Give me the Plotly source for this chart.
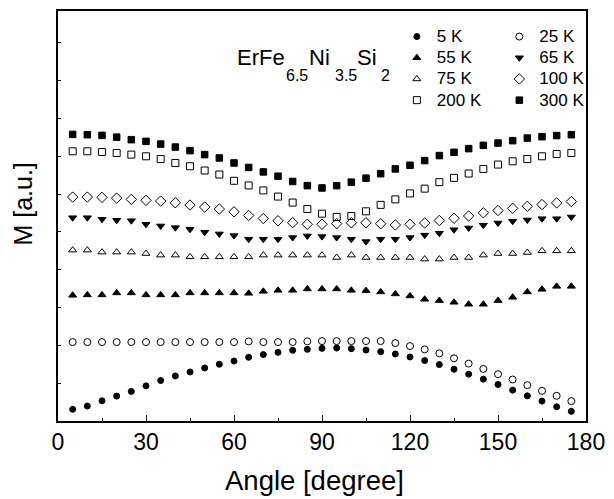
import plotly.graph_objects as go

# Angle (degree)
angles = list(range(5, 180, 5))

# Magnetization M [a.u.] (arbitrary units)
m_5K = [11.7, 15, 20.3, 25, 29.7, 35.3, 40.7, 45.3, 49.3, 53.3, 57, 60.3, 64, 66.7, 69, 71, 72, 73,
        73.3, 72.7, 71.3, 69.7, 67.3, 64.3, 60.7, 56.7, 52, 47, 42, 36.7, 31, 25.3, 20, 14.3, 9.7]
m_25K = [79.3, 79.3, 79.3, 79.3, 79.3, 79.3, 79.3, 79.3, 79.3, 79.3, 79.3, 79.3, 80, 79.3, 79.3, 79.3, 80, 80.3,
         80.3, 80.3, 80.3, 80.3, 78.3, 75.3, 72, 68, 63, 57.7, 52.3, 47, 41.7, 36, 30.3, 25.3, 20]
m_55K = [126.3, 126.7, 126.7, 128.7, 128.7, 126.7, 126.7, 126.7, 128.7, 128.7, 128.7, 128.7, 128.3, 130.3, 131.3,
         131.3, 132.7, 132.7, 132.7, 131.3, 131, 129.7, 127.7, 125.7, 122.3, 121, 119.3, 117.3, 117.3, 121, 124.3,
         129.7, 132.3, 135.3, 135.3]
m_65K = [204.3, 204.3, 202.7, 201.7, 201.3, 197.7, 196, 194.3, 192.7, 189.7, 188, 186.3, 182.7, 182.7, 182.7, 184.3,
         186, 185.3, 184.3, 182.7, 180.3, 182.7, 182.7, 184.3, 186.8, 188.7, 192.2, 194, 196.8, 199, 200.7, 202,
         203.3, 203.3, 205]
m_75K = [171.7, 171.7, 169.7, 169.7, 169.7, 168.3, 166.7, 166.7, 165, 165, 165, 165, 165, 166.7, 166.7, 166.7,
         166.7, 166.7, 164.3, 166.7, 164.3, 164.3, 164.3, 164.3, 162.7, 162.7, 164.3, 164.3, 166.7, 168.3, 168.3,
         169.3, 171, 171, 171]
m_100K = [225, 225, 224.7, 224, 222.7, 221.7, 221, 219.3, 217, 215, 213, 210.2, 206.5, 203.5, 201.2, 199.3, 197.7,
          197.7, 198.3, 199.2, 199.2, 198.2, 197, 197.7, 199, 201.5, 203.7, 206, 209.2, 211.5, 213.7, 215.8, 217.5,
          219.2, 220.5]
m_200K = [271, 271, 270.3, 269.3, 267.7, 266, 263.3, 259.3, 256, 251.7, 247.7, 241.4, 236.7, 231.7, 225.5, 219.5,
          213, 208.3, 205, 206, 210.7, 217.2, 222.7, 228.7, 233.5, 240, 244.3, 248.7, 253.3, 257.7, 261, 263.3,
          266, 268.3, 269.3]
m_300K = [288, 287.7, 287, 285.2, 282.7, 281, 278.3, 275.3, 271.7, 267.7, 264.3, 259.3, 254.8, 250.3, 246, 240.7,
          236.5, 234.2, 236.5, 240, 244, 248.5, 253.3, 257, 261.7, 266.7, 270, 273.7, 277, 279.3, 281.7, 284.3,
          285.7, 286.8, 287.7]

series_names = ["5 K", "25 K", "55 K", "65 K", "75 K", "100 K", "200 K", "300 K"]
x_ticks = [0, 30, 60, 90, 120, 150, 180]
x_title = "Angle [degree]"
y_title = "M [a.u.]"
formula_parts = ["ErFe", "6.5", "Ni", "3.5", "Si", "2"]

FONT = "Liberation Sans, Arial, sans-serif"

styles = [
    ("circle", 6, "legend"),
    ("circle-open", 7, "legend2"),
    ("triangle-up", 7, "legend"),
    ("triangle-down", 7, "legend2"),
    ("triangle-up-open", 7, "legend"),
    ("diamond-open", 8, "legend2"),
    ("square-open", 7, "legend"),
    ("square", 6.5, "legend2"),
]
values = [m_5K, m_25K, m_55K, m_65K, m_75K, m_100K, m_200K, m_300K]

fig = go.Figure()
for name, vals, (sym, size, lg) in zip(series_names, values, styles):
    fig.add_trace(go.Scatter(
        x=angles, y=vals, mode="markers", legend=lg,
        name="<span style='font-size:17px'>%s</span>" % name,
        marker=dict(symbol=sym, size=size, color="black", line=dict(color="black", width=1)),
    ))

L, R, T, B = 58, 20, 9, 78
W, H = 614, 499
pw, ph = W - L - R, H - T - B

def px_x(p):
    return (p - L) / pw

def px_y(p):
    return (H - B - p) / ph

annotations = []
# formula with deep subscripts: (text, left px, center y px, size)
pieces = [
    (formula_parts[0], 239, 56, 22),
    (formula_parts[1], 288, 74, 16),
    (formula_parts[2], 312, 56, 22),
    (formula_parts[3], 338, 74, 16),
    (formula_parts[4], 361, 56, 22),
    (formula_parts[5], 385, 74, 16),
]
for txt, xp, yp, sz in pieces:
    annotations.append(dict(
        text=txt, x=px_x(xp), y=px_y(yp), xref="paper", yref="paper",
        xanchor="left", yanchor="middle", showarrow=False,
        font=dict(family=FONT, size=sz, color="black"),
        borderpad=0,
    ))

# axis titles
annotations.append(dict(
    text=x_title, x=px_x(318), y=px_y(481), xref="paper", yref="paper",
    xanchor="center", yanchor="middle", showarrow=False,
    font=dict(family=FONT, size=27.5, color="black"),
))
annotations.append(dict(
    text=y_title, x=px_x(23), y=px_y(203), xref="paper", yref="paper",
    xanchor="center", yanchor="middle", showarrow=False, textangle=-90,
    font=dict(family=FONT, size=25, color="black"),
))

legend_common = dict(
    font=dict(family=FONT, size=14, color="black"),
    bgcolor="rgba(0,0,0,0)", borderwidth=0,
    xanchor="left", yanchor="top", orientation="v",
    itemclick=False,
)

fig.update_layout(
    width=W, height=H,
    margin=dict(l=L, r=R, t=T, b=B),
    paper_bgcolor="white", plot_bgcolor="white",
    font=dict(family=FONT, color="black"),
    showlegend=True,
    legend=dict(x=px_x(402), y=px_y(19), **legend_common),
    legend2=dict(x=px_x(506), y=px_y(19), **legend_common),
    annotations=annotations,
    xaxis=dict(
        range=[0, 180], tickvals=x_ticks, ticks="inside", ticklen=6, tickwidth=1.2,
        tickcolor="black", showline=True, linecolor="black", linewidth=1.5, mirror=True,
        showgrid=False, zeroline=False,
        tickfont=dict(family=FONT, size=23, color="black"),
        minor=dict(dtick=15, tick0=15, ticks="inside", ticklen=3, tickcolor="black", showgrid=False),
    ),
    yaxis=dict(
        range=[0, 412], showticklabels=False, ticks="inside", ticklen=3, tickwidth=1,
        tickcolor="black", tick0=0, dtick=38,
        showline=True, linecolor="black", linewidth=1.5, mirror=True,
        showgrid=False, zeroline=False,
    ),
)

fig.write_html("out.html")
